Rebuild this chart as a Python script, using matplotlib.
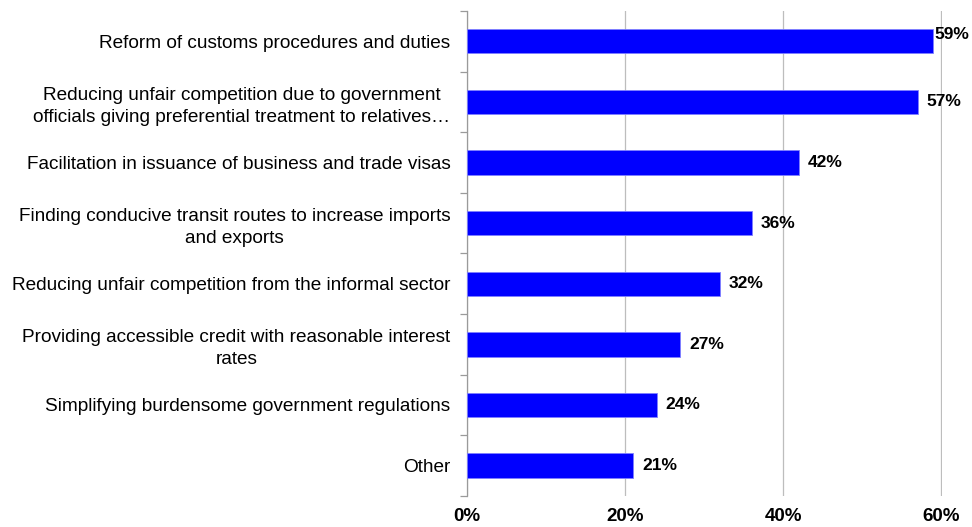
import numpy as np
import matplotlib.pyplot as plt
from matplotlib.ticker import PercentFormatter

plt.rcParams['font.family'] = ['Liberation Sans', 'DejaVu Sans']

# categories, top to bottom
categories = [
    "Reform of customs procedures and duties",
    "Reducing unfair competition due to government\nofficials giving preferential treatment to relatives\u2026",
    "Facilitation in issuance of business and trade visas",
    "Finding conducive transit routes to increase imports\nand exports",
    "Reducing unfair competition from the informal sector",
    "Providing accessible credit with reasonable interest\nrates",
    "Simplifying burdensome government regulations",
    "Other",
]
shares = [59, 57, 42, 36, 32, 27, 24, 21]
x_ticks = [0, 20, 40, 60]

fig = plt.figure(figsize=(9.72, 5.27), dpi=100)
ax = fig.add_axes([0.4805, 0.059, 0.4887, 0.92])

y = np.arange(len(categories))
bars = ax.barh(y, shares, height=0.4, color='#0000FF', edgecolor='#8080FF', linewidth=0.6, zorder=3)

ax.set_xlim(0, 60.1)
ax.set_ylim(len(categories) - 0.5, -0.5)
ax.set_xticks(x_ticks)
ax.xaxis.set_major_formatter(PercentFormatter(decimals=0))
ax.tick_params(axis='x', length=0, pad=9, labelsize=13.5)
for lbl in ax.get_xticklabels():
    lbl.set_fontweight('bold')
ax.grid(axis='x', color='#BDBDBD', linewidth=0.9, zorder=0)

# category labels centred per line, boundaries as minor ticks
ax.set_yticks(y)
ax.set_yticklabels(categories, fontsize=13.7, multialignment='center', linespacing=1.35)
ax.tick_params(axis='y', which='major', length=0, pad=12)
ax.set_yticks(np.arange(len(categories) + 1) - 0.5, minor=True)
ax.tick_params(axis='y', which='minor', length=5, color='#9A9A9A', width=0.9)

for side in ['top', 'right', 'bottom']:
    ax.spines[side].set_visible(False)
ax.spines['left'].set_color('#9A9A9A')
ax.spines['left'].set_linewidth(0.9)

for i, (bar, v) in enumerate(zip(bars, shares)):
    if i == 0:
        ax.annotate(f"{v}%", (v, i), xytext=(0.5, 5), textcoords='offset points',
                    va='center', ha='left', fontsize=12.5, fontweight='bold')
    else:
        ax.annotate(f"{v}%", (v, i), xytext=(6.5, 0), textcoords='offset points',
                    va='center', ha='left', fontsize=12.5, fontweight='bold')

fig.savefig('out.png', dpi=100)
